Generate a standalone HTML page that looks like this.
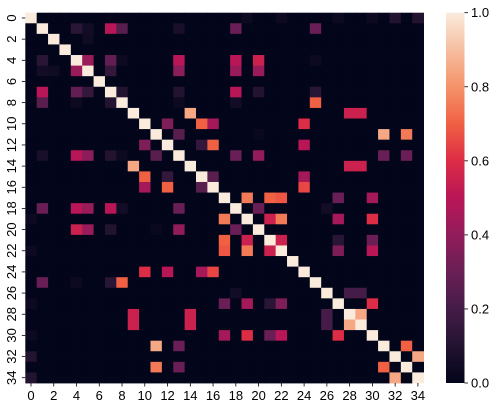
<!DOCTYPE html>
<html><head><meta charset="utf-8"><style>
body{margin:0;background:#fff;}
svg{display:block;font-family:"Liberation Sans","DejaVu Sans",sans-serif;}
</style></head><body>
<svg id="chart" width="504" height="401" viewBox="0 0 504 401">
<defs>
<linearGradient id="cbg" x1="0" y1="1" x2="0" y2="0">
<stop offset="0" stop-color="#03051a"/><stop offset="0.1" stop-color="#221331"/><stop offset="0.2" stop-color="#451c47"/><stop offset="0.3" stop-color="#691f55"/><stop offset="0.4" stop-color="#921c5b"/><stop offset="0.5" stop-color="#b91657"/><stop offset="0.6" stop-color="#dd2c45"/><stop offset="0.7" stop-color="#f06043"/><stop offset="0.8" stop-color="#f5936a"/><stop offset="0.9" stop-color="#f6bea0"/><stop offset="1" stop-color="#faebdd"/>
</linearGradient>
</defs>
<g id="cells"></g>
<g id="axes"></g>
<rect x="446" y="12.7" width="18.5" height="370.3" fill="url(#cbg)"/>
<g id="cbticks"></g>
</svg>
<script>
const N = 35;
const pairs = [
[0,19,.03],[0,22,.03],[0,27,.03],[0,30,.03],[0,32,.1],[0,34,.1],
[1,4,.12],[1,5,.05],[1,7,.5],[1,8,.25],[1,13,.07],[1,18,.3],[1,25,.3],
[2,5,.04],
[4,5,.42],[4,7,.28],[4,8,.03],[4,13,.5],[4,18,.5],[4,20,.55],[4,25,.03],
[5,7,.15],[5,13,.38],[5,18,.42],[5,20,.42],
[7,8,.1],[7,13,.1],[7,18,.5],[7,20,.1],[7,25,.12],
[8,13,.03],[8,18,.05],[8,25,.7],
[9,14,.85],[9,28,.55],[9,29,.55],
[10,12,.35],[10,15,.7],[10,16,.45],[10,24,.6],
[11,13,.25],[11,20,.02],[11,31,.85],[11,33,.75],
[12,15,.15],[12,16,.7],[12,24,.5],
[13,18,.3],[13,20,.4],[13,31,.3],[13,33,.3],
[14,28,.55],[14,29,.55],
[15,16,.25],[15,24,.45],
[16,24,.65],
[17,19,.75],[17,21,.7],[17,22,.68],[17,27,.3],[17,30,.45],
[18,20,.3],[18,26,.05],
[19,21,.55],[19,22,.75],[19,27,.45],[19,30,.6],
[21,22,.55],[21,27,.12],[21,30,.3],
[22,27,.35],[22,30,.5],
[26,28,.2],[26,29,.2],
[27,30,.6],
[28,29,.85],
[31,33,.7],
[32,34,.85]
];
const axisTicks = [0,2,4,6,8,10,12,14,16,18,20,22,24,26,28,30,32,34];
const cbTicks = [0.0,0.2,0.4,0.6,0.8,1.0];

const X0=25.3, X1=423.6, Y0=12.7, Y1=383;
const cw=(X1-X0)/N, ch=(Y1-Y0)/N;
const xs=c=>X0+c*cw, ys=r=>Y0+r*ch;
const cbY=v=>Y1-v*(Y1-Y0);
const stops=[[0,[3,5,26]],[.1,[34,19,49]],[.2,[69,28,71]],[.3,[105,31,85]],[.4,[146,28,91]],[.5,[185,22,87]],[.6,[221,44,69]],[.7,[240,96,67]],[.8,[245,147,106]],[.9,[246,190,160]],[1,[250,235,221]]];
function color(v){v=Math.max(0,Math.min(1,v));for(let i=1;i<stops.length;i++){if(v<=stops[i][0]){const a=stops[i-1],b=stops[i],t=(v-a[0])/(b[0]-a[0]);return 'rgb('+a[1].map((x,k)=>Math.round(x+(b[1][k]-x)*t)).join(',')+')';}}return 'rgb(250,235,221)';}
const M=[];for(let i=0;i<N;i++){M.push(new Array(N).fill(0));M[i][i]=1;}
pairs.forEach(p=>{M[p[0]][p[1]]=p[2];M[p[1]][p[0]]=p[2];});
const NS='http://www.w3.org/2000/svg';
const g=document.getElementById('cells');
for(let r=0;r<N;r++)for(let c=0;c<N;c++){
const e=document.createElementNS(NS,'rect');
e.setAttribute('x',xs(c));e.setAttribute('y',ys(r));
e.setAttribute('width',cw+0.4);e.setAttribute('height',ch+0.4);
e.setAttribute('fill',color(M[r][c]));


g.appendChild(e);}
const ax=document.getElementById('axes');
axisTicks.forEach(t=>{
const cx=xs(t)+cw/2, cy=ys(t)+ch/2;
let l=document.createElementNS(NS,'line');l.setAttribute('x1',cx);l.setAttribute('x2',cx);l.setAttribute('y1',Y1);l.setAttribute('y2',Y1+3.5);l.setAttribute('stroke','#000');l.setAttribute('stroke-width','0.8');


ax.appendChild(l);
let tx=document.createElementNS(NS,'text');tx.setAttribute('x',cx);tx.setAttribute('y',Y1+17);tx.setAttribute('text-anchor','middle');tx.setAttribute('font-size','13');tx.textContent=t;


ax.appendChild(tx);
l=document.createElementNS(NS,'line');l.setAttribute('x1',X0-3.5);l.setAttribute('x2',X0);l.setAttribute('y1',cy);l.setAttribute('y2',cy);l.setAttribute('stroke','#000');l.setAttribute('stroke-width','0.8');


ax.appendChild(l);
tx=document.createElementNS(NS,'text');tx.setAttribute('x',X0-6);tx.setAttribute('y',cy);tx.setAttribute('text-anchor','middle');tx.setAttribute('dominant-baseline','central');tx.setAttribute('font-size','13');tx.setAttribute('transform','rotate(-90 '+(X0-14)+' '+cy+')');tx.setAttribute('x',X0-14);tx.textContent=t;


ax.appendChild(tx);
});
const cb=document.getElementById('cbticks');
cbTicks.forEach(v=>{
const y=cbY(v);
const l=document.createElementNS(NS,'line');l.setAttribute('x1',464.5);l.setAttribute('x2',468);l.setAttribute('y1',y);l.setAttribute('y2',y);l.setAttribute('stroke','#000');l.setAttribute('stroke-width','0.8');


cb.appendChild(l);
const t=document.createElementNS(NS,'text');t.setAttribute('x',471);t.setAttribute('y',y+4.5);t.setAttribute('font-size','13');t.textContent=v.toFixed(1);


cb.appendChild(t);
});
</script>
</body></html>
